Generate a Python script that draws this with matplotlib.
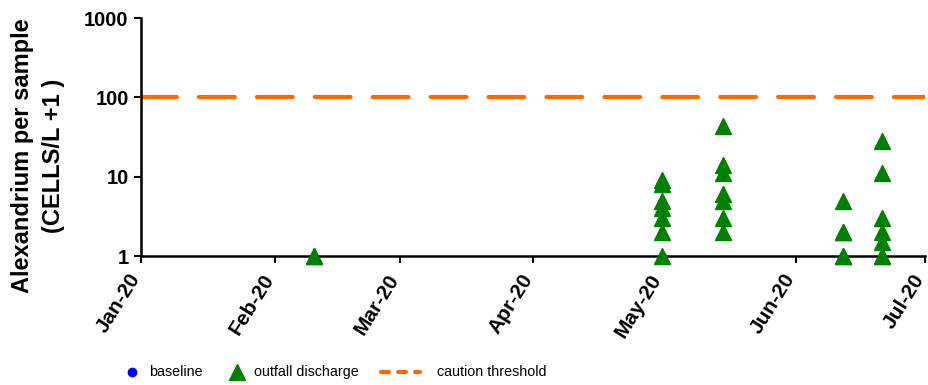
import matplotlib.pyplot as plt
import matplotlib.dates as mdates
import matplotlib.transforms as mtransforms
from matplotlib.lines import Line2D
import pandas as pd

# outfall discharge samples (cells/L + 1)
outfall_dates = (['2020-02-10'] * 2
                 + ['2020-05-01'] * 7
                 + ['2020-05-15'] * 7
                 + ['2020-06-12'] * 5
                 + ['2020-06-21'] * 7)
outfall_vals = ([1, 1]
                + [1, 2, 3, 4, 5, 8, 9]
                + [2, 3, 5, 6, 11, 14, 44]
                + [1, 1, 2, 2, 5]
                + [1, 1, 1.5, 2, 3, 11, 28])
baseline_dates = []
baseline_vals = []
caution_threshold = 100

x_start, x_end = '2020-01-01', '2020-07-01'
month_ticks = ['2020-01-01', '2020-02-01', '2020-03-01', '2020-04-01',
               '2020-05-01', '2020-06-01', '2020-07-01']
y_ticks = [1, 10, 100, 1000]
legend_labels = ['baseline', 'outfall discharge', 'caution threshold']

orange = '#FF6A00'
plt.rcParams['font.family'] = ['Liberation Sans', 'DejaVu Sans']

fig = plt.figure(figsize=(9.29, 3.85), dpi=100)
ax = fig.add_axes([0.152, 0.335, 0.844, 0.618])

ax.plot(pd.to_datetime(baseline_dates), baseline_vals, 'o', color='blue', ms=6)
ax.plot(pd.to_datetime(outfall_dates), outfall_vals, '^', color='green',
        ms=11, mec='green', clip_on=False, zorder=3)
ax.axhline(caution_threshold, color=orange, lw=3, dashes=(8.6, 5.3),
           dash_capstyle='round')

ax.set_yscale('log')
ax.set_ylim(1, 1000)
ax.set_yticks(y_ticks)
ax.set_yticklabels([str(v) for v in y_ticks])
ax.minorticks_off()
ax.set_xlim(pd.Timestamp(x_start), pd.Timestamp(x_end))
ax.set_xticks(pd.to_datetime(month_ticks))
ax.xaxis.set_major_formatter(mdates.DateFormatter('%b-%y'))
ax.xaxis.set_minor_locator(plt.NullLocator())

ax.tick_params(axis='both', width=1.5, length=5, direction='out')
ax.tick_params(axis='y', labelsize=14.5, pad=4)
ax.tick_params(axis='x', labelsize=15, pad=9)
shift = mtransforms.ScaledTranslation(-5 / 100, 0, fig.dpi_scale_trans)
for lbl in ax.get_xticklabels():
    lbl.set_rotation(58)
    lbl.set_ha('right')
    lbl.set_va('center')
    lbl.set_rotation_mode('anchor')
    lbl.set_transform(lbl.get_transform() + shift)
for lbl in ax.get_xticklabels() + ax.get_yticklabels():
    lbl.set_fontweight('bold')

ax.spines['top'].set_visible(False)
ax.spines['right'].set_visible(False)
ax.spines['left'].set_linewidth(1.8)
ax.spines['bottom'].set_linewidth(1.8)

fig.text(0.041, 0.595, 'Alexandrium per sample\n(CELLS/L +1 )', fontsize=17,
         fontweight='bold', rotation=90, ha='center', va='center',
         multialignment='center', linespacing=1.45)

# legend row drawn by hand (Excel-style spacing)
ly = 0.034
fig.add_artist(Line2D([132 / 929], [ly], marker='o', color='blue', ms=6,
                      transform=fig.transFigure))
fig.add_artist(Line2D([237 / 929], [ly], marker='^', color='green', ms=11,
                      transform=fig.transFigure))
fig.add_artist(Line2D([381 / 929, 420 / 929], [ly, ly], color=orange, lw=3,
                      dashes=(1.9, 2.2), dash_capstyle='round',
                      transform=fig.transFigure))
for x_px, txt in zip([149, 254, 437], legend_labels):
    fig.text(x_px / 929, ly, txt, fontsize=10.3, ha='left', va='center')

fig.savefig('out.png', dpi=100)
